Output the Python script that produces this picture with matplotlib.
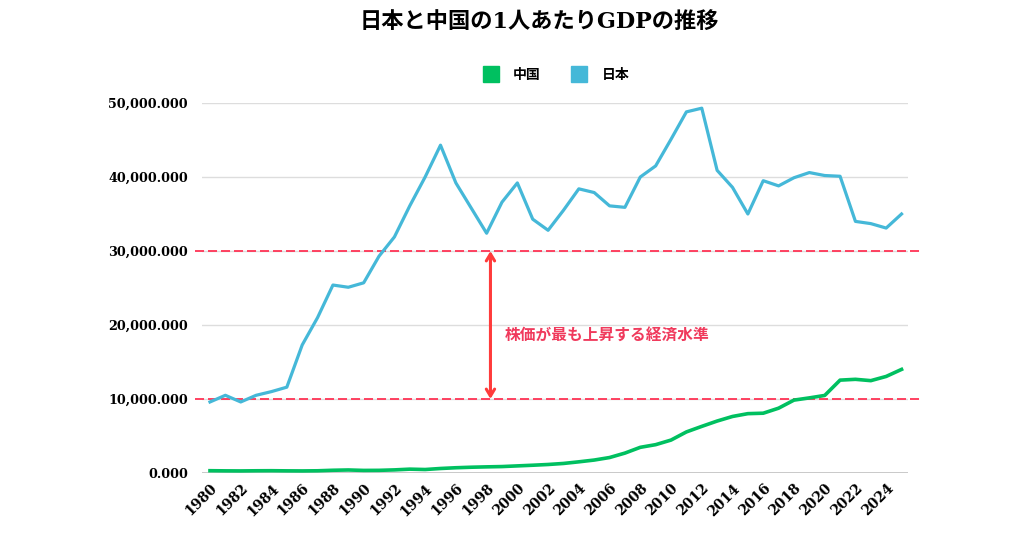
import matplotlib
matplotlib.use("Agg")
import matplotlib.pyplot as plt
from matplotlib.lines import Line2D
from matplotlib.ticker import FuncFormatter

years = list(range(1980, 2026))
japan = [9.6, 10.5, 9.6, 10.5, 11.0, 11.6, 17.3, 21.0, 25.4, 25.1, 25.7, 29.3, 31.9, 36.1,
         40.0, 44.3, 39.2, 35.8, 32.4, 36.6, 39.2, 34.3, 32.8, 35.5, 38.4, 37.9, 36.1, 35.9,
         40.0, 41.5, 45.1, 48.8, 49.3, 40.9, 38.6, 35.0, 39.5, 38.8, 39.9, 40.6, 40.2, 40.1,
         34.0, 33.7, 33.1, 35.0]
china = [0.31, 0.29, 0.28, 0.30, 0.31, 0.29, 0.28, 0.30, 0.37, 0.41, 0.35, 0.36, 0.42, 0.52,
         0.47, 0.61, 0.71, 0.78, 0.83, 0.87, 0.96, 1.05, 1.15, 1.29, 1.51, 1.75, 2.09, 2.69,
         3.47, 3.83, 4.45, 5.55, 6.30, 7.02, 7.64, 8.02, 8.08, 8.76, 9.85, 10.15, 10.48, 12.55,
         12.66, 12.48, 13.05, 14.0]
japan = [v * 1000 for v in japan]
china = [v * 1000 for v in china]

title = "日本と中国の1人あたりGDPの推移"
label_cn = "中国"
label_jp = "日本"
note = "株価が最も上昇する経済水準"
band_low, band_high = 10000, 30000
y_ticks = [0, 10000, 20000, 30000, 40000, 50000]
x_ticks = list(range(1980, 2025, 2))

plt.rcParams['font.family'] = ['DejaVu Serif', 'Noto Sans CJK JP']
plt.rcParams['font.weight'] = 'bold'

c_jp = "#45b8d8"
c_cn = "#00c060"
c_red = "#ff3355"

fig = plt.figure(figsize=(10.24, 5.38), dpi=100)
ax = fig.add_axes([202/1024, 65/538, 706/1024, 370/538])
ax.set_xlim(1979.48, 2025.42)
ax.set_ylim(0, 50000)

for s in ax.spines.values():
    s.set_visible(False)
ax.tick_params(length=0)
ax.set_yticks(y_ticks)
ax.yaxis.set_major_formatter(FuncFormatter(lambda v, p: f"{v:,.0f}.000" if v else "0.000"))
for yv in y_ticks[1:]:
    ax.axhline(yv, color="#dddddd", lw=1.0, zorder=1)
ax.axhline(0, color="#c4c4c4", lw=2.0, zorder=1)
ax.tick_params(axis='y', pad=10, labelsize=9.2)
ax.set_xticks(x_ticks)
ax.set_xticklabels([str(x) for x in x_ticks], rotation=45, ha='right',
                   rotation_mode='anchor', fontsize=10)
ax.tick_params(axis='x', pad=6)
for lab in ax.get_xticklabels() + ax.get_yticklabels():
    lab.set_fontweight('bold')

for yv in (band_low, band_high):
    ax.plot([-0.01, 1.018], [yv, yv], transform=ax.get_yaxis_transform(),
            color=c_red, lw=1.3, linestyle=(0, (5, 2.2)), clip_on=False, zorder=2)

ax.plot(years, japan, color=c_jp, lw=2.3, zorder=4, clip_on=False)
ax.plot(years, china, color=c_cn, lw=2.6, zorder=4, clip_on=False)

ax.annotate("", xy=(1998.25, band_high), xytext=(1998.25, band_low),
            arrowprops=dict(arrowstyle="<->,head_length=0.5,head_width=0.3",
                            color="#ff3b3b", lw=2.2, shrinkA=0, shrinkB=0), zorder=5)
ax.text(1999.19, 18650, note, color="#f03a5c", fontsize=11.3, fontweight='bold',
        va='center', ha='left', zorder=5)

fig.text(539/1024, 1 - 23/538, title, ha='center', va='center', fontsize=16, fontweight='bold')

handles = [Line2D([], [], marker='s', linestyle='none', markersize=12, color=c_cn),
           Line2D([], [], marker='s', linestyle='none', markersize=12, color=c_jp)]
fig.legend(handles, [label_cn, label_jp], loc='center', bbox_to_anchor=(553/1024, 1 - 75/538),
           ncol=2, frameon=False, handletextpad=0.6, columnspacing=1.8,
           prop={'weight': 'bold', 'size': 10})

fig.savefig("out.png", dpi=100, facecolor="white")
